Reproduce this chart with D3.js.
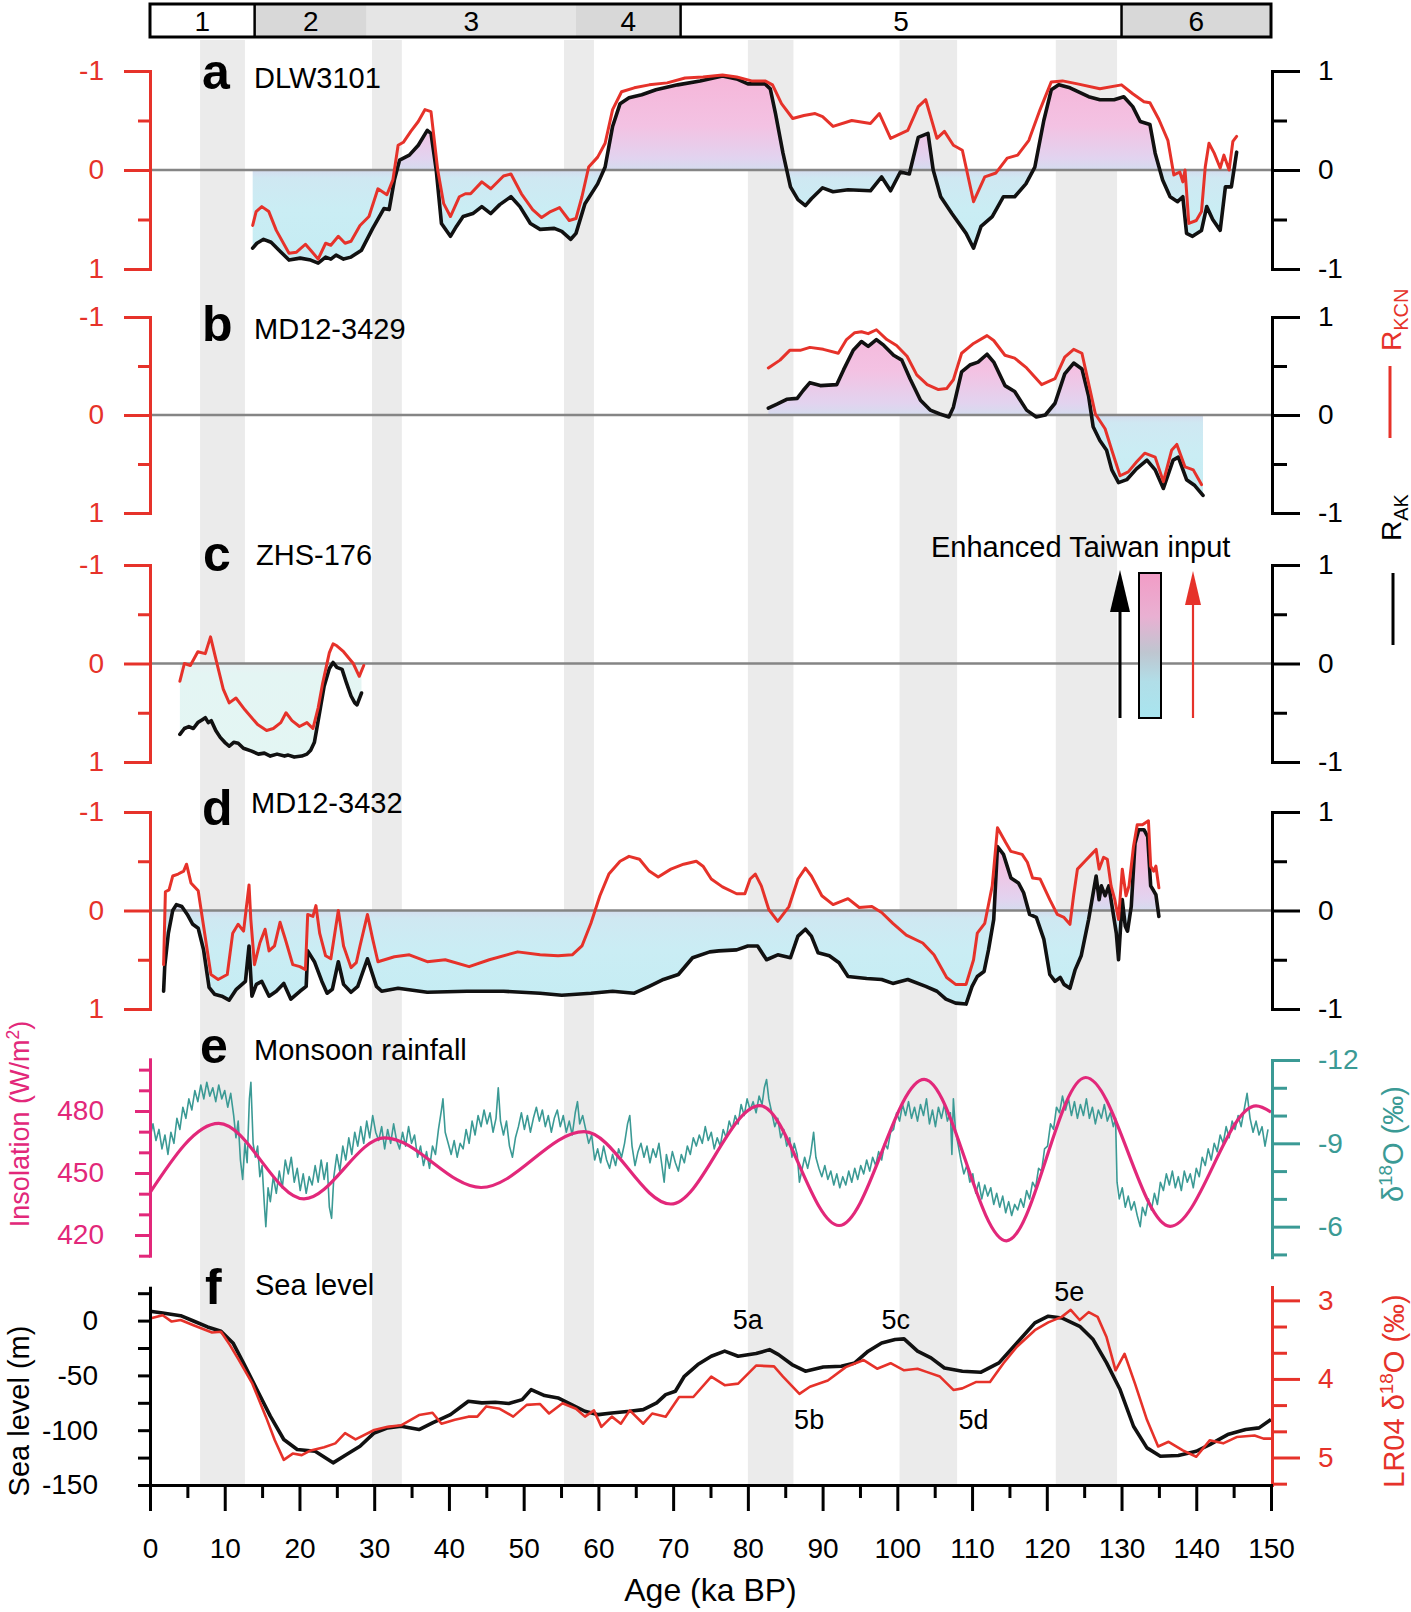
<!DOCTYPE html>
<html><head><meta charset="utf-8">
<script src="https://cdn.jsdelivr.net/npm/d3@7"></script>
<style>
body{margin:0;background:#fff}
</style></head><body>
<svg id="chart" width="1411" height="1612"></svg>
<script>
// ---------------- DATA ----------------
const ageTicks = [0,10,20,30,40,50,60,70,80,90,100,110,120,130,140,150];
const ageMinor = [5,15,25,35,45,55,65,75,85,95,105,115,125,135,145];
const misEdges = [0,14,29,57,71,130,150];
const misLabels = ['1','2','3','4','5','6'];
const misLabelAge = [7,21.5,43,64,100.5,140];
const misDividers = [14,71,130];
const bands = [[6.7,12.7],[29.7,33.7],[55.4,59.4],[80,86.1],[100.3,108],[121.2,129.4]];

const rTicks = [-1,0,1];
const rMinor = [-0.5,0.5];

// Panel a  DLW3101
const aAK = [[13.74,0.79],[14.3,0.74],[15.2,0.70],[16.2,0.73],[17.4,0.82],[18.6,0.91],[20.1,0.89],[21.5,0.91],[22.5,0.94],[23.5,0.88],[24.2,0.90],[24.9,0.86],[25.9,0.90],[26.9,0.88],[28.3,0.81],[29.8,0.59],[31.3,0.39],[32.0,0.40],[32.7,0.10],[33.4,-0.10],[34.7,-0.15],[35.9,-0.25],[37.1,-0.40],[37.6,-0.37],[38.3,0.0],[39.0,0.54],[40.2,0.67],[41.0,0.57],[41.9,0.47],[43.2,0.44],[44.4,0.37],[45.6,0.44],[46.8,0.35],[48.3,0.27],[49.5,0.37],[50.9,0.54],[52.2,0.60],[54.1,0.59],[55.1,0.62],[56.3,0.70],[57.0,0.64],[58.2,0.34],[59.9,0.14],[60.9,-0.03],[61.9,-0.44],[62.9,-0.67],[64.1,-0.73],[65.8,-0.76],[67.7,-0.81],[70.6,-0.86],[73.6,-0.90],[76.6,-0.95],[78.5,-0.92],[80.0,-0.87],[82.3,-0.87],[83.0,-0.82],[83.7,-0.57],[84.7,-0.17],[85.7,0.17],[86.7,0.30],[87.7,0.36],[88.5,0.29],[90.0,0.18],[91.4,0.22],[93.4,0.20],[96.4,0.21],[97.9,0.07],[99.1,0.21],[100.4,0.02],[101.6,0.04],[102.8,-0.33],[104.1,-0.37],[104.8,0.0],[105.8,0.27],[107.3,0.44],[109.2,0.64],[110.2,0.79],[111.2,0.57],[112.7,0.47],[114.2,0.27],[115.7,0.27],[117.2,0.14],[118.4,-0.03],[119.6,-0.50],[120.6,-0.81],[121.6,-0.86],[123.1,-0.83],[125.6,-0.74],[127.1,-0.71],[129.0,-0.71],[130.3,-0.74],[131.5,-0.64],[132.5,-0.49],[133.8,-0.46],[134.5,-0.17],[135.5,0.10],[136.5,0.27],[137.5,0.32],[138.2,0.27],[138.7,0.64],[139.5,0.67],[140.7,0.61],[141.4,0.37],[142.2,0.50],[143.2,0.61],[143.9,0.17],[144.7,0.17],[145.4,-0.18]];
const aKCN = [[13.74,0.56],[14.2,0.42],[14.96,0.37],[15.9,0.42],[16.9,0.61],[18.6,0.84],[19.6,0.83],[20.8,0.75],[21.5,0.81],[22.5,0.90],[23.5,0.74],[24.2,0.76],[25.2,0.67],[26.1,0.74],[26.9,0.72],[28.1,0.56],[29.3,0.47],[30.5,0.19],[31.7,0.25],[32.5,0.10],[33.2,-0.25],[33.9,-0.28],[34.9,-0.39],[35.9,-0.49],[36.8,-0.61],[37.6,-0.59],[38.5,0.0],[39.3,0.34],[40.2,0.47],[41.4,0.27],[42.2,0.24],[42.9,0.24],[44.4,0.12],[45.6,0.19],[47.3,0.06],[48.3,0.04],[49.7,0.24],[51.2,0.40],[52.4,0.48],[53.6,0.42],[54.8,0.38],[56.1,0.51],[57.0,0.49],[57.8,0.27],[58.7,-0.03],[59.9,-0.13],[60.9,-0.27],[61.9,-0.61],[63.1,-0.79],[64.8,-0.83],[66.8,-0.86],[69.2,-0.88],[71.6,-0.93],[74.0,-0.94],[76.6,-0.96],[78.5,-0.94],[80.5,-0.90],[82.3,-0.90],[83.3,-0.86],[84.5,-0.67],[86.0,-0.52],[87.5,-0.55],[89.0,-0.57],[90.0,-0.54],[91.4,-0.44],[93.9,-0.50],[96.4,-0.47],[97.6,-0.57],[99.1,-0.32],[101.4,-0.40],[102.8,-0.64],[103.8,-0.71],[105.3,-0.32],[106.3,-0.39],[107.5,-0.25],[108.7,-0.20],[110.2,0.32],[111.7,0.07],[113.2,0.03],[114.7,-0.12],[116.1,-0.15],[117.6,-0.30],[119.1,-0.61],[120.6,-0.89],[122.1,-0.90],[124.1,-0.87],[127.1,-0.82],[130.0,-0.86],[131.5,-0.77],[133.0,-0.69],[133.8,-0.68],[135.0,-0.51],[136.2,-0.30],[137.0,0.05],[137.8,0.02],[138.2,0.12],[138.5,0.0],[139.0,0.54],[140.0,0.51],[140.7,0.42],[141.2,-0.03],[141.7,-0.27],[142.4,-0.17],[143.2,-0.02],[143.7,-0.15],[144.4,0.0],[144.9,-0.29],[145.4,-0.34]];

// Panel b  MD12-3429
const bAK = [[82.74,-0.07],[83.9,-0.11],[85.2,-0.16],[86.6,-0.17],[87.4,-0.25],[88.3,-0.33],[89.7,-0.30],[91.9,-0.31],[92.8,-0.46],[94.1,-0.66],[95.2,-0.75],[96.1,-0.70],[97.2,-0.77],[98.2,-0.71],[99.5,-0.61],[100.6,-0.56],[101.7,-0.37],[103.1,-0.15],[104.4,-0.05],[105.7,-0.01],[106.9,0.02],[107.5,-0.08],[108.6,-0.44],[109.7,-0.51],[110.8,-0.54],[112.0,-0.62],[112.9,-0.54],[114.4,-0.30],[115.7,-0.24],[117.3,-0.05],[118.6,0.02],[119.8,0.0],[121.1,-0.12],[122.4,-0.42],[123.6,-0.53],[124.7,-0.47],[125.6,-0.19],[126.2,0.12],[127.1,0.26],[128.0,0.36],[128.7,0.56],[129.6,0.69],[130.7,0.66],[132.0,0.55],[133.4,0.46],[134.5,0.56],[135.6,0.75],[136.9,0.46],[137.6,0.43],[138.7,0.66],[139.8,0.72],[140.9,0.82]];
const bKCN = [[82.74,-0.48],[84.3,-0.56],[85.6,-0.66],[87.0,-0.66],[88.3,-0.69],[90.1,-0.67],[92.1,-0.63],[93.2,-0.77],[94.3,-0.84],[95.2,-0.85],[96.1,-0.83],[97.2,-0.87],[98.6,-0.77],[99.9,-0.71],[101.3,-0.60],[102.6,-0.41],[104.0,-0.31],[105.5,-0.26],[106.6,-0.27],[107.5,-0.36],[108.6,-0.63],[110.2,-0.73],[112.0,-0.81],[112.9,-0.76],[114.4,-0.61],[115.7,-0.58],[117.3,-0.48],[119.3,-0.31],[121.1,-0.37],[122.4,-0.59],[123.6,-0.67],[124.7,-0.63],[125.6,-0.32],[126.5,-0.01],[127.8,0.14],[128.7,0.36],[129.8,0.62],[130.9,0.58],[132.0,0.48],[133.1,0.39],[134.5,0.43],[135.6,0.68],[136.7,0.36],[137.4,0.30],[138.5,0.53],[139.6,0.56],[140.7,0.71]];

// Panel c  ZHS-176
const cAK = [[4.0,0.72],[4.6,0.66],[5.2,0.64],[5.8,0.66],[6.4,0.60],[7.0,0.57],[7.4,0.55],[7.8,0.60],[8.2,0.58],[8.8,0.68],[9.4,0.75],[10.0,0.80],[10.6,0.84],[11.2,0.80],[11.8,0.81],[12.5,0.86],[13.6,0.89],[14.5,0.92],[15.3,0.91],[16.1,0.94],[17.0,0.92],[18.0,0.94],[18.5,0.93],[19.3,0.95],[20.3,0.94],[21.0,0.92],[21.5,0.88],[22.0,0.80],[22.3,0.67],[22.8,0.45],[23.3,0.23],[24.0,0.05],[24.5,-0.01],[25.0,0.04],[25.7,0.06],[26.3,0.20],[26.9,0.33],[27.4,0.40],[27.7,0.42],[28.3,0.30]];
const cKCN = [[4.0,0.18],[4.6,0.0],[5.4,0.02],[6.4,-0.12],[7.4,-0.10],[8.1,-0.27],[8.8,-0.05],[9.8,0.26],[10.6,0.40],[11.5,0.35],[12.7,0.47],[14.4,0.62],[15.6,0.68],[16.5,0.66],[17.5,0.60],[18.2,0.50],[19.0,0.58],[20.0,0.64],[21.0,0.60],[21.8,0.66],[22.5,0.45],[23.1,0.20],[24.0,-0.11],[24.5,-0.20],[25.0,-0.18],[25.9,-0.12],[27.2,0.0],[28.0,0.13],[28.6,0.02]];

// Panel d  MD12-3432
const dAK = [[1.82,0.82],[1.97,0.57],[2.46,0.23],[3.04,0.0],[3.53,-0.06],[4.26,-0.04],[4.99,0.04],[5.72,0.14],[6.45,0.18],[7.17,0.40],[7.9,0.78],[8.63,0.85],[9.61,0.87],[10.58,0.91],[11.55,0.80],[12.77,0.72],[13.25,0.36],[13.64,0.87],[14.23,0.75],[14.96,0.72],[15.93,0.87],[16.9,0.82],[17.9,0.74],[18.85,0.90],[20.06,0.82],[20.9,0.77],[21.1,0.41],[22.0,0.52],[23.0,0.72],[23.7,0.84],[24.4,0.80],[25.2,0.52],[25.9,0.75],[26.9,0.83],[27.8,0.77],[29.1,0.49],[30.3,0.77],[31.0,0.82],[33.2,0.79],[37.1,0.83],[42.4,0.82],[47.3,0.82],[52.2,0.84],[55.1,0.86],[59.0,0.84],[61.9,0.82],[64.8,0.84],[66.8,0.77],[68.7,0.70],[70.7,0.65],[72.6,0.48],[74.9,0.42],[76.1,0.41],[78.5,0.40],[80.0,0.36],[81.3,0.36],[82.5,0.50],[84.0,0.45],[85.7,0.48],[86.7,0.26],[87.7,0.19],[88.5,0.26],[89.4,0.43],[90.9,0.46],[92.2,0.53],[93.4,0.67],[95.9,0.69],[97.9,0.70],[99.4,0.74],[101.4,0.70],[103.8,0.77],[105.3,0.82],[106.5,0.90],[107.8,0.94],[109.2,0.95],[110.0,0.77],[110.7,0.67],[111.6,0.62],[112.2,0.40],[112.9,0.09],[113.4,-0.65],[114.2,-0.57],[115.2,-0.33],[116.2,-0.28],[116.9,-0.18],[117.7,0.04],[118.6,0.07],[119.6,0.29],[120.4,0.65],[121.1,0.72],[121.8,0.68],[122.3,0.75],[123.1,0.79],[123.8,0.60],[124.6,0.46],[125.6,0.09],[126.6,-0.35],[127.0,-0.11],[127.3,-0.25],[127.8,-0.15],[128.3,-0.25],[128.8,-0.01],[129.3,0.23],[129.6,0.50],[130.1,-0.11],[130.5,0.16],[130.8,0.21],[131.3,-0.04],[131.8,-0.68],[132.3,-0.82],[133.0,-0.82],[133.5,-0.75],[133.9,-0.25],[134.3,-0.20],[134.6,-0.16],[135.0,0.06]];
const dKCN = [[1.82,0.55],[2.06,-0.19],[2.55,-0.21],[3.04,-0.35],[3.77,-0.37],[4.5,-0.40],[4.89,-0.47],[5.48,-0.28],[6.45,-0.20],[7.17,0.16],[8.15,0.65],[9.12,0.70],[10.34,0.65],[11.07,0.23],[11.79,0.14],[12.52,0.21],[12.86,-0.01],[13.25,-0.26],[13.49,0.09],[13.98,0.55],[14.7,0.33],[15.4,0.19],[15.93,0.41],[16.66,0.36],[17.4,0.12],[18.1,0.29],[19.1,0.55],[20.06,0.57],[20.8,0.60],[21.1,0.04],[21.8,0.06],[22.2,-0.05],[22.7,0.23],[23.5,0.46],[24.2,0.49],[25.2,0.0],[25.9,0.36],[26.9,0.58],[27.6,0.53],[28.1,0.36],[29.1,0.04],[29.8,0.29],[30.5,0.52],[32.7,0.47],[34.7,0.45],[37.1,0.52],[39.5,0.50],[42.7,0.57],[45.4,0.50],[49.2,0.42],[52.2,0.45],[54.6,0.46],[56.5,0.45],[57.8,0.36],[59.0,0.13],[60.2,-0.15],[61.4,-0.37],[62.9,-0.50],[64.1,-0.55],[65.5,-0.52],[66.8,-0.40],[68.0,-0.34],[69.7,-0.42],[71.4,-0.47],[73.1,-0.50],[74.0,-0.45],[75.1,-0.32],[76.6,-0.24],[78.5,-0.17],[79.6,-0.17],[80.3,-0.32],[81.0,-0.37],[81.8,-0.25],[82.8,-0.01],[84.0,0.11],[85.5,-0.04],[86.7,-0.32],[87.7,-0.43],[88.5,-0.35],[89.9,-0.15],[91.4,-0.06],[93.4,-0.12],[94.9,-0.03],[96.6,-0.04],[97.9,0.02],[99.4,0.13],[101.2,0.25],[103.4,0.33],[104.9,0.45],[106.6,0.68],[107.8,0.75],[109.2,0.75],[110.2,0.50],[110.7,0.23],[111.7,0.13],[112.7,-0.25],[113.4,-0.84],[114.5,-0.69],[115.2,-0.60],[116.7,-0.57],[117.4,-0.49],[118.1,-0.33],[119.1,-0.32],[120.4,-0.11],[121.4,0.04],[122.3,0.07],[123.1,0.14],[123.6,-0.16],[124.1,-0.42],[125.1,-0.50],[126.1,-0.58],[126.6,-0.62],[127.0,-0.42],[127.6,-0.54],[128.1,-0.52],[128.6,-0.25],[129.1,-0.11],[129.6,0.09],[130.1,-0.42],[130.6,-0.15],[131.0,-0.25],[131.6,-0.65],[132.1,-0.87],[132.8,-0.87],[133.6,-0.91],[133.9,-0.45],[134.3,-0.40],[134.6,-0.45],[135.0,-0.23]];

// Panel e
const insTicks = [420,450,480];
const insMinor = [410,430,440,460,470,490,500];
// insolation extrema (ka, W/m2)
const insolation = [[0,440.5],[9.2,474],[20.6,437.5],[31.4,467],[44.3,443],[58.1,470],[69.7,435],[81.6,482.6],[92.2,424.6],[103.6,495.3],[114.6,417.2],[125.2,496.2],[136.5,424.2],[148,482.5],[150,479.5]];
const d18Ticks = [-12,-9,-6];
const d18Minor = [-11,-10,-8,-7,-5];
const speleo = [[0.0,-9.2],[0.4,-9.7],[0.8,-9.1],[1.2,-9.5],[1.6,-8.8],[2.0,-9.3],[2.4,-8.6],[2.8,-9.4],[3.2,-9.0],[3.6,-9.9],[4.0,-9.5],[4.4,-10.3],[4.8,-9.9],[5.2,-10.6],[5.6,-10.2],[6.0,-10.9],[6.4,-10.5],[6.8,-11.1],[7.2,-10.6],[7.6,-11.2],[8.0,-10.7],[8.4,-11.0],[8.8,-10.5],[9.2,-11.1],[9.6,-10.6],[10.0,-10.9],[10.4,-10.3],[10.8,-10.8],[11.2,-10.0],[11.5,-9.2],[11.8,-9.8],[12.1,-8.4],[12.4,-7.7],[12.7,-9.0],[13.0,-8.3],[13.3,-10.6],[13.5,-11.2],[13.8,-9.0],[14.1,-8.5],[14.4,-8.9],[14.7,-7.8],[15.0,-8.2],[15.3,-6.8],[15.5,-6.0],[15.8,-7.4],[16.1,-6.9],[16.5,-7.8],[16.9,-7.2],[17.3,-8.0],[17.7,-7.4],[18.1,-8.4],[18.5,-7.9],[18.9,-8.5],[19.3,-7.6],[19.7,-8.1],[20.1,-7.3],[20.5,-7.9],[20.9,-7.2],[21.3,-7.8],[21.7,-7.5],[22.1,-8.2],[22.5,-7.6],[22.9,-8.4],[23.3,-7.7],[23.7,-8.3],[24.0,-6.7],[24.3,-6.3],[24.6,-7.8],[25.0,-8.6],[25.4,-8.0],[25.8,-8.9],[26.2,-8.4],[26.6,-9.2],[27.0,-8.6],[27.4,-9.4],[27.8,-8.9],[28.2,-9.6],[28.6,-9.0],[29.0,-9.8],[29.4,-9.2],[29.8,-10.0],[30.2,-9.4],[30.6,-9.1],[31.0,-9.6],[31.4,-8.8],[31.8,-9.5],[32.2,-9.0],[32.6,-9.7],[33.0,-9.1],[33.4,-8.8],[33.8,-9.4],[34.2,-8.9],[34.6,-9.6],[35.0,-9.0],[35.4,-9.3],[35.8,-8.5],[36.2,-8.9],[36.6,-8.2],[37.0,-8.7],[37.4,-8.1],[37.8,-8.9],[38.2,-8.6],[38.6,-9.5],[39.0,-10.2],[39.2,-10.6],[39.5,-9.4],[39.9,-9.0],[40.3,-8.6],[40.7,-9.1],[41.1,-8.5],[41.5,-9.0],[41.9,-8.8],[42.3,-9.5],[42.7,-9.0],[43.1,-9.8],[43.5,-9.3],[43.9,-10.0],[44.3,-9.6],[44.7,-10.2],[45.1,-9.7],[45.5,-10.1],[45.9,-9.4],[46.3,-9.9],[46.6,-11.0],[46.9,-9.8],[47.3,-9.3],[47.7,-9.8],[48.1,-8.9],[48.5,-8.5],[48.9,-9.2],[49.3,-9.6],[49.7,-10.1],[50.1,-9.5],[50.5,-10.0],[50.9,-9.4],[51.3,-9.9],[51.7,-10.3],[52.1,-9.8],[52.5,-10.2],[52.9,-9.6],[53.3,-10.0],[53.7,-9.4],[54.1,-9.9],[54.5,-10.2],[54.9,-9.6],[55.3,-10.0],[55.7,-9.4],[56.1,-9.8],[56.5,-9.3],[56.9,-10.1],[57.2,-10.5],[57.5,-9.7],[57.9,-10.0],[58.3,-9.5],[58.7,-9.0],[59.1,-9.3],[59.5,-8.4],[59.9,-8.8],[60.3,-8.3],[60.7,-8.9],[61.1,-8.4],[61.5,-8.1],[61.9,-8.6],[62.3,-8.2],[62.7,-8.8],[63.1,-8.5],[63.5,-9.0],[63.9,-9.7],[64.2,-10.0],[64.5,-8.9],[64.9,-8.2],[65.3,-8.7],[65.7,-9.0],[66.1,-8.5],[66.5,-8.9],[66.9,-8.3],[67.3,-8.8],[67.7,-8.5],[68.1,-9.0],[68.5,-8.2],[68.8,-7.6],[69.1,-8.6],[69.5,-8.1],[69.9,-8.7],[70.3,-8.3],[70.7,-8.0],[71.1,-8.6],[71.5,-8.3],[71.9,-8.9],[72.3,-8.6],[72.7,-9.2],[73.1,-8.9],[73.5,-9.3],[73.9,-9.0],[74.3,-9.6],[74.7,-9.1],[75.1,-9.4],[75.5,-8.8],[75.9,-9.2],[76.3,-8.9],[76.7,-9.5],[77.1,-9.2],[77.5,-9.8],[77.9,-9.5],[78.3,-10.0],[78.7,-9.7],[79.1,-10.4],[79.5,-10.0],[79.9,-10.6],[80.3,-10.2],[80.7,-10.5],[81.1,-10.1],[81.5,-10.7],[81.9,-10.4],[82.2,-11.0],[82.5,-11.3],[82.8,-10.6],[83.2,-10.1],[83.6,-9.6],[84.0,-9.9],[84.4,-9.2],[84.8,-9.5],[85.2,-8.9],[85.6,-9.2],[85.9,-8.5],[86.2,-9.0],[86.6,-8.6],[86.9,-7.6],[87.2,-8.0],[87.6,-8.5],[88.0,-8.1],[88.4,-8.6],[88.8,-9.4],[89.1,-8.5],[89.5,-8.1],[89.9,-7.8],[90.3,-8.2],[90.7,-7.7],[91.1,-8.0],[91.5,-7.5],[91.9,-7.9],[92.3,-7.4],[92.7,-7.8],[93.1,-7.5],[93.5,-8.0],[93.9,-7.6],[94.3,-8.1],[94.7,-7.7],[95.1,-8.2],[95.5,-7.9],[95.9,-8.4],[96.3,-8.0],[96.7,-8.5],[97.1,-8.2],[97.5,-8.7],[97.9,-8.4],[98.3,-9.0],[98.7,-8.8],[99.1,-9.4],[99.5,-9.5],[99.9,-10.1],[100.3,-9.8],[100.7,-10.4],[101.1,-10.0],[101.5,-10.5],[101.9,-9.9],[102.3,-10.3],[102.7,-9.8],[103.1,-10.4],[103.5,-10.0],[103.9,-10.6],[104.3,-9.7],[104.7,-10.2],[105.1,-9.6],[105.5,-10.3],[105.9,-9.9],[106.3,-10.4],[106.7,-9.8],[107.1,-10.1],[107.3,-8.6],[107.5,-10.6],[107.8,-9.4],[108.1,-9.0],[108.5,-8.4],[108.9,-7.9],[109.3,-8.2],[109.7,-7.6],[110.1,-7.9],[110.5,-7.2],[110.9,-7.6],[111.3,-7.0],[111.7,-7.5],[112.1,-7.1],[112.5,-7.4],[112.9,-6.8],[113.3,-7.2],[113.7,-6.7],[114.1,-7.1],[114.5,-6.5],[114.9,-6.9],[115.3,-6.4],[115.7,-6.8],[116.1,-6.6],[116.5,-7.0],[116.9,-6.7],[117.3,-7.3],[117.7,-7.0],[118.1,-7.6],[118.5,-7.4],[118.9,-8.1],[119.3,-8.0],[119.7,-8.8],[120.1,-8.9],[120.5,-9.7],[120.9,-9.5],[121.3,-10.3],[121.7,-10.1],[122.1,-10.7],[122.5,-10.2],[122.9,-10.6],[123.3,-10.0],[123.7,-10.5],[124.1,-9.9],[124.5,-10.4],[124.9,-10.0],[125.3,-10.6],[125.7,-9.9],[126.1,-10.3],[126.5,-9.7],[126.9,-10.2],[127.3,-9.9],[127.7,-10.4],[128.1,-9.8],[128.5,-10.1],[128.9,-9.6],[129.2,-9.9],[129.4,-7.6],[129.7,-7.0],[130.1,-7.4],[130.5,-6.7],[130.9,-7.1],[131.3,-6.6],[131.7,-6.9],[132.1,-6.4],[132.5,-6.0],[132.8,-6.7],[133.2,-6.4],[133.6,-7.0],[134.0,-6.6],[134.4,-7.2],[134.8,-6.8],[135.2,-7.6],[135.6,-7.3],[136.0,-7.9],[136.4,-7.5],[136.8,-8.0],[137.2,-7.4],[137.6,-7.8],[138.0,-7.3],[138.4,-8.0],[138.8,-7.6],[139.2,-7.9],[139.6,-7.4],[140.0,-8.1],[140.4,-7.8],[140.8,-8.5],[141.2,-8.2],[141.6,-8.8],[142.0,-8.4],[142.4,-9.0],[142.8,-8.7],[143.2,-9.3],[143.6,-9.0],[144.0,-9.6],[144.4,-9.2],[144.8,-9.8],[145.2,-9.5],[145.6,-10.0],[146.0,-9.6],[146.4,-10.2],[146.8,-10.8],[147.2,-9.9],[147.6,-9.4],[148.0,-9.8],[148.4,-9.3],[148.8,-9.6],[149.2,-8.9],[149.6,-9.5]];

// Panel f
const seaTicks = [0,-50,-100,-150];
const seaMinor = [25,-25,-75,-125];
const lrTicks = [3,4,5];
const lrMinor = [3.333,3.667,4.333,4.667,5.333];
const seaLevel = [[0,8.5],[1.7,6.9],[4.1,4.5],[5.9,-0.6],[7.7,-5.8],[9.5,-9.7],[11.1,-20.4],[12.5,-38.6],[14.3,-62.9],[16.1,-87.2],[17.9,-108.5],[19.7,-117.6],[22.1,-119.2],[24.5,-129.8],[26.3,-122.2],[28.1,-114.6],[30.0,-102.5],[31.8,-97.9],[33.6,-96.4],[36.0,-99.4],[37.8,-93.4],[40.2,-85.8],[42.6,-73.6],[44.4,-75.1],[46.2,-74.5],[48.0,-75.7],[49.8,-72.1],[51.0,-63.0],[52.8,-68.4],[54.6,-70.6],[56.4,-76.6],[58.2,-82.7],[60.0,-85.8],[61.8,-84.3],[64.2,-82.7],[66.0,-81.2],[67.8,-75.1],[69.0,-67.5],[70.3,-64.5],[71.5,-50.8],[73.3,-40.1],[75.1,-32.5],[76.9,-27.9],[78.7,-32.5],[81.1,-30.1],[82.9,-26.5],[84.1,-31.0],[85.9,-40.1],[87.7,-46.2],[90.1,-42.3],[92.5,-41.7],[94.3,-38.6],[96.1,-27.9],[97.9,-20.4],[99.7,-17.3],[100.9,-16.7],[102.7,-27.9],[104.5,-34.0],[106.3,-43.2],[108.7,-46.2],[111.2,-47.1],[113.6,-38.6],[116.0,-20.4],[118.4,-2.1],[120.2,4.0],[122.0,2.4],[124.4,-5.2],[126.2,-17.3],[128.0,-38.6],[129.8,-62.9],[131.6,-96.4],[133.4,-116.1],[135.2,-123.7],[137.6,-123.1],[140.0,-119.2],[141.8,-113.1],[144.2,-104.0],[146.6,-99.4],[148.4,-97.9],[150,-90.3]];
const lr04 = [[0,3.23],[1.7,3.19],[2.9,3.27],[4.1,3.25],[5.9,3.32],[8.3,3.41],[9.5,3.40],[10.7,3.57],[11.9,3.76],[13.7,4.06],[15.5,4.48],[16.7,4.78],[17.9,5.03],[19.1,4.95],[20.3,4.97],[21.5,4.91],[23.3,4.87],[24.8,4.82],[26.1,4.69],[27.5,4.77],[30.0,4.65],[31.8,4.61],[33.6,4.59],[36.0,4.46],[37.8,4.43],[39.0,4.57],[40.8,4.52],[42.6,4.48],[43.8,4.48],[45.0,4.35],[46.8,4.38],[48.6,4.48],[50.4,4.33],[52.2,4.32],[53.4,4.44],[55.2,4.31],[57.0,4.38],[58.2,4.48],[59.4,4.40],[60.4,4.61],[61.8,4.48],[63.0,4.57],[64.2,4.40],[66.0,4.57],[67.2,4.44],[69.0,4.48],[70.8,4.23],[72.7,4.23],[75.1,3.97],[76.9,4.08],[78.7,4.06],[81.1,3.83],[83.5,3.84],[84.7,3.97],[86.9,4.19],[88.3,4.10],[90.7,4.02],[93.1,3.85],[95.5,3.76],[97.3,3.87],[99.1,3.80],[100.9,3.89],[102.7,3.87],[103.9,3.91],[105.7,3.97],[107.5,4.14],[108.7,4.12],[110.5,4.04],[112.4,4.04],[114.2,3.80],[116.0,3.59],[118.4,3.38],[120.2,3.28],[122.0,3.21],[123.2,3.12],[124.4,3.25],[125.6,3.15],[126.8,3.21],[128.0,3.47],[129.2,3.89],[130.4,3.68],[131.8,4.06],[133.4,4.52],[134.9,4.86],[136.3,4.80],[138.2,4.91],[140.0,4.99],[141.8,4.78],[143.6,4.82],[145.4,4.74],[147.8,4.72],[149.0,4.76],[150,4.76]];
const substages = [{t:'5a',age:80.0,sl:-8},{t:'5c',age:99.8,sl:-8},{t:'5e',age:123.0,sl:18},{t:'5b',age:88.2,sl:-99},{t:'5d',age:110.2,sl:-99}];

// ---------------- DRAWING ----------------
const FF = '"Liberation Sans", Arial, Helvetica, sans-serif';
const RED = '#e6322a', MAG = '#e2287a', TEAL = '#3b9a95', BAND = '#ebebeb';
const svg = d3.select('#chart').attr('font-family', FF);
const defs = svg.append('defs');
const x = d3.scaleLinear().domain([0,150]).range([150,1271]);
const AXY = 1485;

// shaded bands
svg.append('g').selectAll('rect').data(bands).join('rect')
  .attr('x', d => x(d[0])).attr('width', d => x(d[1]) - x(d[0]))
  .attr('y', 40).attr('height', AXY - 40).attr('fill', BAND);

// MIS bar
const misG = svg.append('g');
const misFill = ['#ffffff','#d8d8d8','#e5e5e5','#d8d8d8','#ffffff','#d8d8d8'];
misG.selectAll('rect.seg').data(misLabels).join('rect')
  .attr('x', (d,i) => x(misEdges[i])).attr('width', (d,i) => x(misEdges[i+1]) - x(misEdges[i]))
  .attr('y', 4).attr('height', 33).attr('fill', (d,i) => misFill[i]);
misG.selectAll('line').data(misDividers).join('line')
  .attr('x1', d => x(d)).attr('x2', d => x(d)).attr('y1', 4).attr('y2', 37)
  .attr('stroke', '#000').attr('stroke-width', 2.5);
misG.append('rect').attr('x', x(0)).attr('y', 4).attr('width', x(150) - x(0)).attr('height', 33)
  .attr('fill', 'none').attr('stroke', '#000').attr('stroke-width', 3);
misG.selectAll('text').data(misLabels).join('text')
  .attr('x', (d,i) => x(misLabelAge[i])).attr('y', 31).attr('text-anchor', 'middle')
  .attr('font-size', 28).text(d => d);

function styleAxis(g, color, sw, fs, keepDomain) {
  g.attr('color', color).attr('font-size', fs).attr('font-family', FF);
  if (keepDomain) g.select('.domain').attr('stroke-width', sw).attr('stroke-linecap', 'square');
  else g.select('.domain').remove();
  g.selectAll('.tick line').attr('stroke-width', sw);
  return g;
}
function addAxis(gen, tx, ty, color, sw, fs, keepDomain) {
  const g = svg.append('g').attr('transform', `translate(${tx},${ty})`).call(gen);
  return styleAxis(g, color, sw, fs, keepDomain);
}
const fmt = d => String(d);

function gradient(id, y0, y1, stops) {
  const lg = defs.append('linearGradient').attr('id', id).attr('gradientUnits', 'userSpaceOnUse')
    .attr('x1', 0).attr('x2', 0).attr('y1', y0).attr('y2', y1);
  stops.forEach(s => lg.append('stop').attr('offset', s[0]).attr('stop-color', s[1]));
}
const mainStops = [[0,'#f6b5d8'],[0.28,'#f3c2e3'],[0.44,'#e2d3ef'],[0.5,'#d5dcee'],[0.54,'#cfe8f2'],[0.7,'#caedf4'],[1,'#c4ecf3']];
const paleStops = [[0,'#f4e6f0'],[0.5,'#e8f1f3'],[0.55,'#e4f5f3'],[1,'#e3f6f3']];

const panels = [
  {key:'a', top:71,  bottom:269, ak:aAK, kcn:aKCN, name:'DLW3101',  lx:202, ly:89,  nx:254, ny:88,  stops:mainStops},
  {key:'b', top:317, bottom:513, ak:bAK, kcn:bKCN, name:'MD12-3429',lx:202, ly:341, nx:254, ny:339, stops:mainStops},
  {key:'c', top:565, bottom:762, ak:cAK, kcn:cKCN, name:'ZHS-176',  lx:203, ly:571, nx:256, ny:565, stops:paleStops},
  {key:'d', top:812, bottom:1009,ak:dAK, kcn:dKCN, name:'MD12-3432',lx:202, ly:825, nx:251, ny:813, stops:mainStops}
];

panels.forEach(p => {
  const y = d3.scaleLinear().domain([-1,1]).range([p.top, p.bottom]);
  const gid = 'grad_' + p.key;
  gradient(gid, y(-1), y(1), p.stops);
  const g = svg.append('g');
  g.append('path').datum(p.ak)
    .attr('d', d3.area().x(d => x(d[0])).y0(y(0)).y1(d => y(d[1])))
    .attr('fill', `url(#${gid})`);
  g.append('line').attr('x1', x(0)).attr('x2', x(150)).attr('y1', y(0)).attr('y2', y(0))
    .attr('stroke', '#858585').attr('stroke-width', 2.5);
  const ln = d3.line().x(d => x(d[0])).y(d => y(d[1]));
  g.append('path').datum(p.ak).attr('d', ln).attr('fill', 'none')
    .attr('stroke', '#111').attr('stroke-width', 3.6).attr('stroke-linejoin', 'round').attr('stroke-linecap', 'round');
  g.append('path').datum(p.kcn).attr('d', ln).attr('fill', 'none')
    .attr('stroke', RED).attr('stroke-width', 3).attr('stroke-linejoin', 'round').attr('stroke-linecap', 'round');
  // left axis (R_KCN)
  addAxis(d3.axisLeft(y).tickValues(rTicks).tickSize(26).tickSizeOuter(0).tickPadding(20).tickFormat(fmt), x(0), 0, RED, 3, 28, true);
  addAxis(d3.axisLeft(y).tickValues(rMinor).tickSize(12).tickSizeOuter(0).tickFormat(''), x(0), 0, RED, 3, 28, false);
  // right axis (R_AK), reversed
  const yr = d3.scaleLinear().domain([1,-1]).range([p.top, p.bottom]);
  addAxis(d3.axisRight(yr).tickValues(rTicks).tickSize(28).tickSizeOuter(0).tickPadding(18).tickFormat(fmt), x(150)+1, 0, '#000', 3, 28, true);
  addAxis(d3.axisRight(yr).tickValues(rMinor).tickSize(15).tickSizeOuter(0).tickFormat(''), x(150)+1, 0, '#000', 3, 28, false);
  // labels
  svg.append('text').attr('x', p.lx).attr('y', p.ly).attr('font-size', 50).attr('font-weight', 'bold').text(p.key);
  svg.append('text').attr('x', p.nx).attr('y', p.ny).attr('font-size', 29).text(p.name);
});

// ----- Panel e -----
const yIns = d3.scaleLinear().domain([410,505]).range([1255.7,1059.3]);
const yD18 = d3.scaleLinear().domain([-12,-4.9]).range([1060,1257.2]);
svg.append('path').datum(speleo)
  .attr('d', d3.line().x(d => x(d[0])).y(d => yD18(d[1])))
  .attr('fill', 'none').attr('stroke', TEAL).attr('stroke-width', 1.6).attr('stroke-linejoin', 'round');
svg.append('path').datum(insolation)
  .attr('d', d3.line().curve(d3.curveMonotoneX).x(d => x(d[0])).y(d => yIns(d[1])))
  .attr('fill', 'none').attr('stroke', MAG).attr('stroke-width', 3.2);
addAxis(d3.axisLeft(yIns).tickValues(insTicks).tickSize(15).tickSizeOuter(0).tickPadding(31).tickFormat(fmt), x(0), 0, MAG, 3, 28, true);
addAxis(d3.axisLeft(yIns).tickValues(insMinor).tickSize(11).tickSizeOuter(0).tickFormat(''), x(0), 0, MAG, 3, 28, false);
addAxis(d3.axisRight(yD18).tickValues(d18Ticks).tickSize(28).tickSizeOuter(0).tickPadding(18).tickFormat(fmt), x(150)+1, 0, TEAL, 3, 28, true);
addAxis(d3.axisRight(yD18).tickValues(d18Minor).tickSize(15).tickSizeOuter(0).tickFormat(''), x(150)+1, 0, TEAL, 3, 28, false);
svg.append('text').attr('x', 200).attr('y', 1063).attr('font-size', 50).attr('font-weight', 'bold').text('e');
svg.append('text').attr('x', 254).attr('y', 1060).attr('font-size', 29).text('Monsoon rainfall');

// ----- Panel f -----
const ySea = d3.scaleLinear().domain([-150,30]).range([AXY, AXY - 180*1.096]);
const yLR = d3.scaleLinear().domain([2.83,5.35]).range([1287, AXY]);
svg.append('path').datum(seaLevel)
  .attr('d', d3.line().x(d => x(d[0])).y(d => ySea(d[1])))
  .attr('fill', 'none').attr('stroke', '#111').attr('stroke-width', 3.6).attr('stroke-linejoin', 'round');
svg.append('path').datum(lr04)
  .attr('d', d3.line().x(d => x(d[0])).y(d => yLR(d[1])))
  .attr('fill', 'none').attr('stroke', RED).attr('stroke-width', 2.6).attr('stroke-linejoin', 'round');
addAxis(d3.axisLeft(ySea).tickValues(seaTicks).tickSize(12).tickSizeOuter(0).tickPadding(40).tickFormat(fmt), x(0), 0, '#000', 3, 28, true);
addAxis(d3.axisLeft(ySea).tickValues(seaMinor).tickSize(12).tickSizeOuter(0).tickFormat(''), x(0), 0, '#000', 3, 28, false);
addAxis(d3.axisRight(yLR).tickValues(lrTicks).tickSize(28).tickSizeOuter(0).tickPadding(18).tickFormat(fmt), x(150)+1, 0, RED, 3, 28, true);
addAxis(d3.axisRight(yLR).tickValues(lrMinor).tickSize(15).tickSizeOuter(0).tickFormat(''), x(150)+1, 0, RED, 3, 28, false);
svg.append('text').attr('x', 205).attr('y', 1304).attr('font-size', 50).attr('font-weight', 'bold').text('f');
svg.append('text').attr('x', 255).attr('y', 1295).attr('font-size', 29).text('Sea level');
svg.append('g').selectAll('text').data(substages).join('text')
  .attr('x', d => x(d.age)).attr('y', d => ySea(d.sl)).attr('text-anchor', 'middle')
  .attr('font-size', 27).text(d => d.t);

// bottom axis
addAxis(d3.axisBottom(x).tickValues(ageTicks).tickSize(26).tickSizeOuter(0).tickPadding(27).tickFormat(fmt), 0, AXY, '#000', 3, 28, true);
addAxis(d3.axisBottom(x).tickValues(ageMinor).tickSize(13).tickSizeOuter(0).tickFormat(''), 0, AXY, '#000', 3, 28, false);
svg.append('text').attr('x', (x(0)+x(150))/2).attr('y', 1601).attr('text-anchor', 'middle').attr('font-size', 32).text('Age (ka BP)');

// rotated axis titles
function vtext(px, py, color, size, parts) {
  const t = svg.append('text').attr('transform', `translate(${px},${py}) rotate(-90)`)
    .attr('text-anchor', 'middle').attr('fill', color).attr('font-size', size);
  parts.forEach(pt => {
    const s = t.append('tspan').text(pt.t);
    if (pt.sup) s.attr('font-size', size*0.65).attr('dy', -size*0.38);
    if (pt.after) s.attr('dy', size*0.38);
  });
  return t;
}
vtext(29, 1124, MAG, 27, [{t:'Insolation (W/m'},{t:'2',sup:true},{t:')',after:true}]);
vtext(29, 1411, '#000', 29, [{t:'Sea level (m)'}]);
vtext(1403, 1144, TEAL, 29, [{t:'δ'},{t:'18',sup:true},{t:'O (‰)',after:true}]);
vtext(1404, 1391, RED, 29, [{t:'LR04 δ'},{t:'18',sup:true},{t:'O (‰)',after:true}]);

// right-side legend R_KCN / R_AK
function rlabel(px, py, color, sub) {
  const t = svg.append('text').attr('transform', `translate(${px},${py}) rotate(-90)`)
    .attr('fill', color).attr('font-size', 28);
  t.append('tspan').text('R');
  t.append('tspan').attr('font-size', 20).attr('dy', 7).text(sub);
}
rlabel(1401, 351, RED, 'KCN');
svg.append('line').attr('x1', 1390).attr('x2', 1390).attr('y1', 366).attr('y2', 438).attr('stroke', RED).attr('stroke-width', 3);
rlabel(1401, 541, '#000', 'AK');
svg.append('line').attr('x1', 1393).attr('x2', 1393).attr('y1', 573).attr('y2', 645).attr('stroke', '#000').attr('stroke-width', 3);

// Enhanced Taiwan input legend
svg.append('text').attr('x', 931).attr('y', 557).attr('font-size', 29).text('Enhanced Taiwan input');
svg.append('line').attr('x1', 1120).attr('x2', 1120).attr('y1', 718).attr('y2', 600).attr('stroke', '#000').attr('stroke-width', 3);
svg.append('path').attr('d', 'M1120,570 L1110,612 L1130,612 Z').attr('fill', '#000');
gradient('grad_bar', 573, 718, [[0,'#f29cc6'],[0.3,'#e9b0d2'],[0.55,'#bec6d0'],[0.75,'#b1dee8'],[1,'#a8e5ef']]);
svg.append('rect').attr('x', 1139).attr('y', 573).attr('width', 22).attr('height', 145)
  .attr('fill', 'url(#grad_bar)').attr('stroke', '#000').attr('stroke-width', 2);
svg.append('line').attr('x1', 1193).attr('x2', 1193).attr('y1', 718).attr('y2', 598).attr('stroke', RED).attr('stroke-width', 2.2);
svg.append('path').attr('d', 'M1193,571 L1185,605 L1201,605 Z').attr('fill', RED);
</script>
</body></html>
